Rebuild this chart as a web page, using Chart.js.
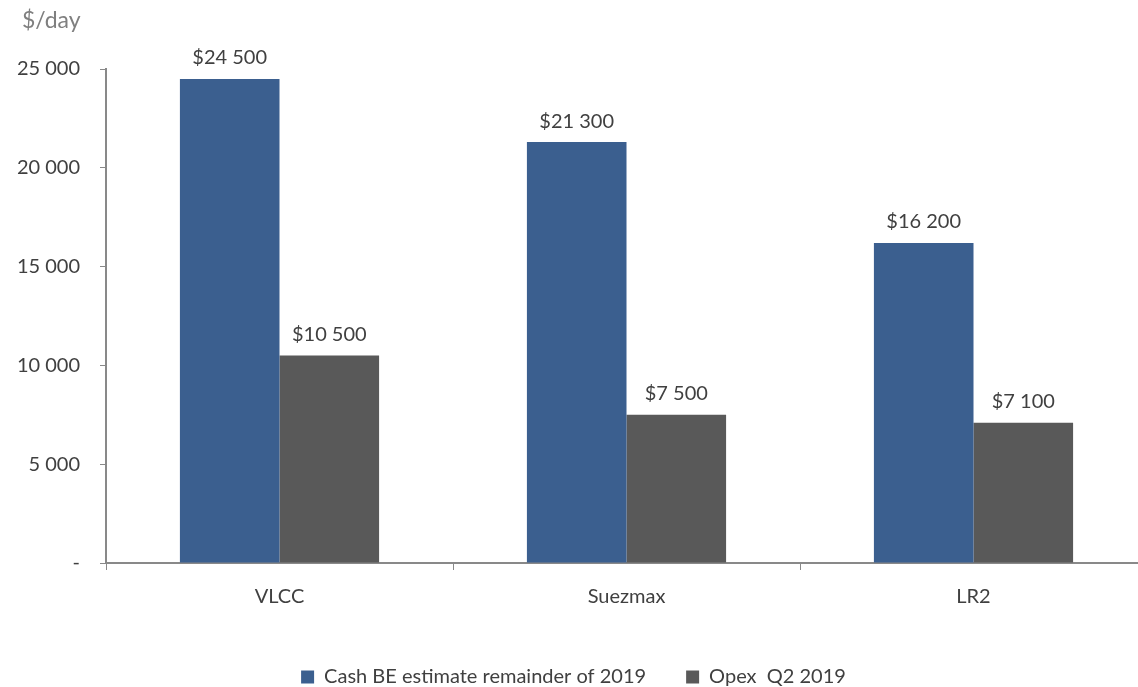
<!DOCTYPE html>
<html>
<head>
<meta charset="utf-8">
<script src="https://cdn.jsdelivr.net/npm/chart.js@4"></script>
<style>
  html, body { margin: 0; padding: 0; background: #fff; overflow: hidden; }
  #wrap { width: 1150px; height: 687px; }
</style>
</head>
<body>
<div id="wrap"><canvas id="grafica"></canvas></div>
<script>
const categorias = ['VLCC', 'Suezmax', 'LR2'];
const cashBE = [24500, 21300, 16200];
const opex = [10500, 7500, 7100];
const ticksY = [0, 5000, 10000, 15000, 20000, 25000];

const FONT = 'Lato, "Open Sans", sans-serif';
const LEG_PAD = 40;

function fmt(v) {
  return v.toString().replace(/\B(?=(\d{3})+(?!\d))/g, ' ');
}

// etiquetas encima de cada barra y la unidad arriba a la izquierda
const etiquetas = {
  id: 'etiquetas',
  afterLayout(chart) {
    // bajar la leyenda hasta el borde inferior
    const l = chart.legend;
    const d = (679 - LEG_PAD - 12) - l.top;
    l.top += d;
    l.bottom += d;
  },
  afterDatasetsDraw(chart) {
    const ctx = chart.ctx;
    ctx.save();
    ctx.font = '20px ' + FONT;
    ctx.fillStyle = '#404040';
    ctx.textAlign = 'center';
    ctx.textBaseline = 'bottom';
    chart.data.datasets.forEach((ds, i) => {
      chart.getDatasetMeta(i).data.forEach((bar, j) => {
        ctx.fillText('$' + fmt(ds.data[j]), bar.x, bar.y - 11);
      });
    });
    ctx.font = '23px ' + FONT;
    ctx.fillStyle = '#7f7f7f';
    ctx.textAlign = 'left';
    ctx.textBaseline = 'middle';
    ctx.fillText('$/day', chart.chartArea.left - 84, chart.chartArea.top - 48);
    ctx.restore();
  }
};

new Chart(document.getElementById('grafica').getContext('2d'), {
  type: 'bar',
  data: {
    labels: categorias,
    datasets: [
      {
        label: 'Cash BE estimate remainder of 2019',
        data: cashBE,
        backgroundColor: '#3b5f8f',
        borderWidth: 0
      },
      {
        label: 'Opex  Q2 2019',
        data: opex,
        backgroundColor: '#595959',
        borderWidth: 0
      }
    ]
  },
  options: {
    responsive: true,
    maintainAspectRatio: false,
    animation: false,
    layout: { padding: { top: 69, right: 3, left: 0, bottom: 0 } },
    datasets: {
      bar: { categoryPercentage: 0.574, barPercentage: 1 }
    },
    scales: {
      x: {
        grid: {
          offset: true,
          drawOnChartArea: false,
          tickLength: 7,
          color: '#898989',
          tickColor: '#898989'
        },
        border: { color: '#898989', width: 2 },
        ticks: { color: '#404040', font: { family: FONT, size: 20 }, padding: 15 },
        afterFit: s => { s.height = 54; }
      },
      y: {
        min: 0,
        max: 25000,
        afterBuildTicks: s => { s.ticks = ticksY.map(v => ({ value: v })); },
        grid: {
          drawOnChartArea: false,
          tickLength: 6,
          color: '#898989',
          tickColor: '#898989'
        },
        border: { color: '#898989', width: 2 },
        ticks: {
          color: '#404040',
          font: { family: FONT, size: 20 },
          padding: 20,
          callback: v => v === 0 ? '-' : fmt(v)
        },
        afterFit: s => { s.width = 106; }
      }
    },
    plugins: {
      legend: {
        position: 'bottom',
        labels: {
          boxWidth: 13,
          boxHeight: 13,
          color: '#404040',
          font: { family: FONT, size: 20 },
          padding: LEG_PAD
        }
      },
      tooltip: { enabled: false }
    }
  },
  plugins: [etiquetas]
});
</script>
</body>
</html>
